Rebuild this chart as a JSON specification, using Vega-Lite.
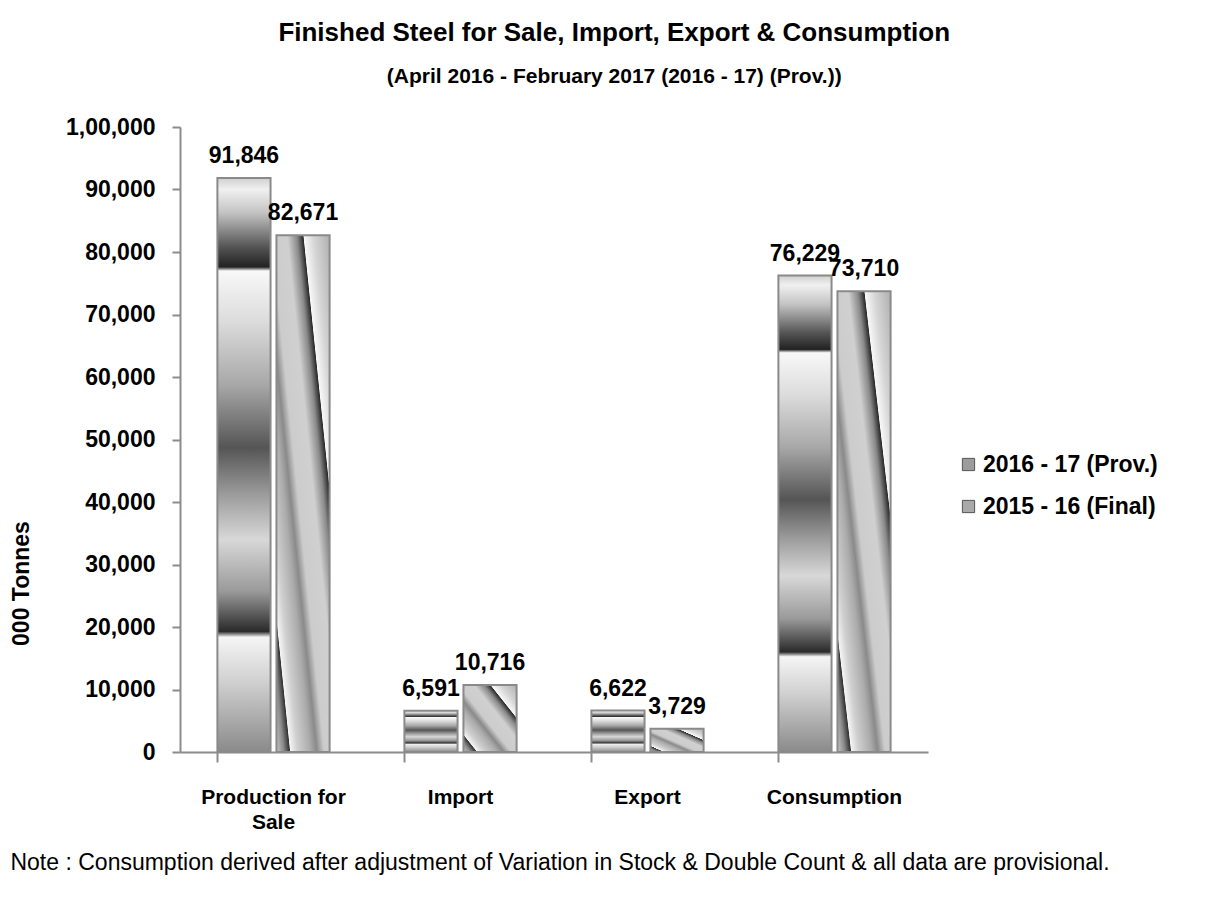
{
  "$schema": "https://vega.github.io/schema/vega-lite/v6.json",
  "background": "white",
  "padding": {"left": 10, "top": 20, "right": 5, "bottom": 5},
  "title": {
    "text": "Finished Steel for Sale, Import, Export & Consumption",
    "subtitle": "(April 2016 - February 2017 (2016 - 17) (Prov.))",
    "anchor": "middle",
    "frame": "bounds",
    "dx": 30,
    "font": "Liberation Sans, Arial, sans-serif",
    "fontSize": 26,
    "fontWeight": "bold",
    "color": "black",
    "subtitleFont": "Liberation Sans, Arial, sans-serif",
    "subtitleFontSize": 21,
    "subtitleFontWeight": "bold",
    "subtitleColor": "black",
    "subtitlePadding": 20,
    "offset": 29
  },
  "datasets": {
    "steel": [
      {"category": "Production for Sale", "series": "2016 - 17 (Prov.)", "value": 91846},
      {"category": "Production for Sale", "series": "2015 - 16 (Final)", "value": 82671},
      {"category": "Import", "series": "2016 - 17 (Prov.)", "value": 6591},
      {"category": "Import", "series": "2015 - 16 (Final)", "value": 10716},
      {"category": "Export", "series": "2016 - 17 (Prov.)", "value": 6622},
      {"category": "Export", "series": "2015 - 16 (Final)", "value": 3729},
      {"category": "Consumption", "series": "2016 - 17 (Prov.)", "value": 76229},
      {"category": "Consumption", "series": "2015 - 16 (Final)", "value": 73710}
    ]
  },
  "vconcat": [
    {
      "title": {
        "text": "Note : Consumption derived after adjustment of Variation in Stock & Double Count & all data are provisional.",
        "orient": "bottom",
        "anchor": "start",
        "frame": "bounds",
        "font": "Liberation Sans, Arial, sans-serif",
        "fontSize": 23,
        "fontWeight": "normal",
        "color": "black",
        "offset": 20
      },
      "width": 748,
      "height": 625,
      "data": {"name": "steel"},
      "encoding": {
        "x": {
          "field": "category",
          "type": "nominal",
          "sort": ["Production for Sale", "Import", "Export", "Consumption"],
          "scale": {"paddingInner": 0.4, "paddingOuter": 0.2},
          "axis": {
            "title": null,
            "labelAngle": 0,
            "bandPosition": 0,
            "labelExpr": "datum.label == 'Production for Sale' ? ['Production for', 'Sale'] : datum.label",
            "labelFont": "Liberation Sans, Arial, sans-serif",
            "labelFontSize": 21,
            "labelFontWeight": "bold",
            "labelColor": "black",
            "labelLimit": 400,
            "labelPadding": 24,
            "labelLineHeight": 25,
            "labelBaseline": "top",
            "domainColor": "#8c8c8c",
            "domainWidth": 2,
            "tickColor": "#8c8c8c",
            "tickWidth": 2,
            "tickSize": 10
          }
        },
        "xOffset": {
          "field": "series",
          "type": "nominal",
          "sort": ["2016 - 17 (Prov.)", "2015 - 16 (Final)"],
          "scale": {"domain": ["2016 - 17 (Prov.)", "2015 - 16 (Final)"], "paddingInner": 0.1}
        },
        "y": {
          "field": "value",
          "type": "quantitative",
          "scale": {"domain": [0, 100000]},
          "axis": {
            "title": "000 Tonnes",
            "titleFont": "Liberation Sans, Arial, sans-serif",
            "titleFontSize": 23,
            "titleFontWeight": "bold",
            "titleColor": "black",
            "titlePadding": 32,
            "titleY": 456,
            "values": [0, 10000, 20000, 30000, 40000, 50000, 60000, 70000, 80000, 90000, 100000],
            "labelExpr": "datum.value >= 100000 ? '1,00,000' : format(datum.value, ',')",
            "labelFont": "Liberation Sans, Arial, sans-serif",
            "labelFontSize": 23,
            "labelFontWeight": "bold",
            "labelColor": "black",
            "labelPadding": 17,
            "grid": false,
            "domainColor": "#8c8c8c",
            "domainWidth": 2,
            "tickColor": "#8c8c8c",
            "tickWidth": 2,
            "tickSize": 8
          }
        }
      },
      "layer": [
        {
          "transform": [{"filter": "datum.series == '2016 - 17 (Prov.)'"}],
          "mark": {
            "type": "bar",
            "stroke": "#8a8a8a",
            "strokeWidth": 2,
            "fill": {
              "gradient": "linear",
              "x1": 0, "y1": 0, "x2": 0, "y2": 1,
              "stops": [
                {"offset": 0, "color": "#d0d0d0"},
                {"offset": 0.02, "color": "#f0f0f0"},
                {"offset": 0.06, "color": "#c4c4c4"},
                {"offset": 0.12, "color": "#555555"},
                {"offset": 0.155, "color": "#222222"},
                {"offset": 0.162, "color": "#f8f8f8"},
                {"offset": 0.25, "color": "#dcdcdc"},
                {"offset": 0.36, "color": "#a8a8a8"},
                {"offset": 0.47, "color": "#555555"},
                {"offset": 0.55, "color": "#9a9a9a"},
                {"offset": 0.63, "color": "#d8d8d8"},
                {"offset": 0.72, "color": "#9a9a9a"},
                {"offset": 0.79, "color": "#2a2a2a"},
                {"offset": 0.8, "color": "#f5f5f5"},
                {"offset": 0.88, "color": "#cfcfcf"},
                {"offset": 1, "color": "#8a8a8a"}
              ]
            }
          }
        },
        {
          "transform": [{"filter": "datum.series == '2015 - 16 (Final)'"}],
          "mark": {
            "type": "bar",
            "stroke": "#8a8a8a",
            "strokeWidth": 2,
            "fill": {
              "gradient": "linear",
              "x1": 0, "y1": 1, "x2": 1, "y2": 0,
              "stops": [
                {"offset": 0, "color": "#c8c8c8"},
                {"offset": 0.07, "color": "#8a8a8a"},
                {"offset": 0.125, "color": "#333333"},
                {"offset": 0.132, "color": "#f5f5f5"},
                {"offset": 0.2, "color": "#d0d0d0"},
                {"offset": 0.32, "color": "#ababab"},
                {"offset": 0.38, "color": "#8a8a8a"},
                {"offset": 0.45, "color": "#cccccc"},
                {"offset": 0.6, "color": "#d0d0d0"},
                {"offset": 0.69, "color": "#8a8a8a"},
                {"offset": 0.75, "color": "#2a2a2a"},
                {"offset": 0.757, "color": "#f8f8f8"},
                {"offset": 0.85, "color": "#d5d5d5"},
                {"offset": 1, "color": "#b0b0b0"}
              ]
            }
          }
        },
        {
          "mark": {
            "type": "text",
            "baseline": "bottom",
            "dy": -10,
            "font": "Liberation Sans, Arial, sans-serif",
            "fontSize": 23,
            "fontWeight": "bold",
            "color": "black"
          },
          "encoding": {
            "text": {"field": "value", "type": "quantitative", "format": ","}
          }
        },
        {
          "mark": {"type": "point", "shape": "square", "filled": true, "opacity": 0},
          "encoding": {
            "color": {
              "field": "series",
              "type": "nominal",
              "scale": {"domain": ["2016 - 17 (Prov.)", "2015 - 16 (Final)"], "range": ["#9c9c9c", "#a9a9a9"]},
              "legend": {
                "title": null,
                "orient": "none",
                "legendX": 777,
                "legendY": 326,
                "symbolType": "square",
                "symbolSize": 150,
                "symbolOpacity": 1,
                "symbolStrokeColor": "#555555",
                "symbolStrokeWidth": 1,
                "labelFont": "Liberation Sans, Arial, sans-serif",
                "labelFontSize": 23,
                "labelFontWeight": "bold",
                "labelColor": "black",
                "labelLimit": 400,
                "labelOffset": 3,
                "rowPadding": 18
              }
            }
          }
        }
      ]
    }
  ],
  "config": {
    "view": {"stroke": null},
    "concat": {"spacing": 0}
  }
}
